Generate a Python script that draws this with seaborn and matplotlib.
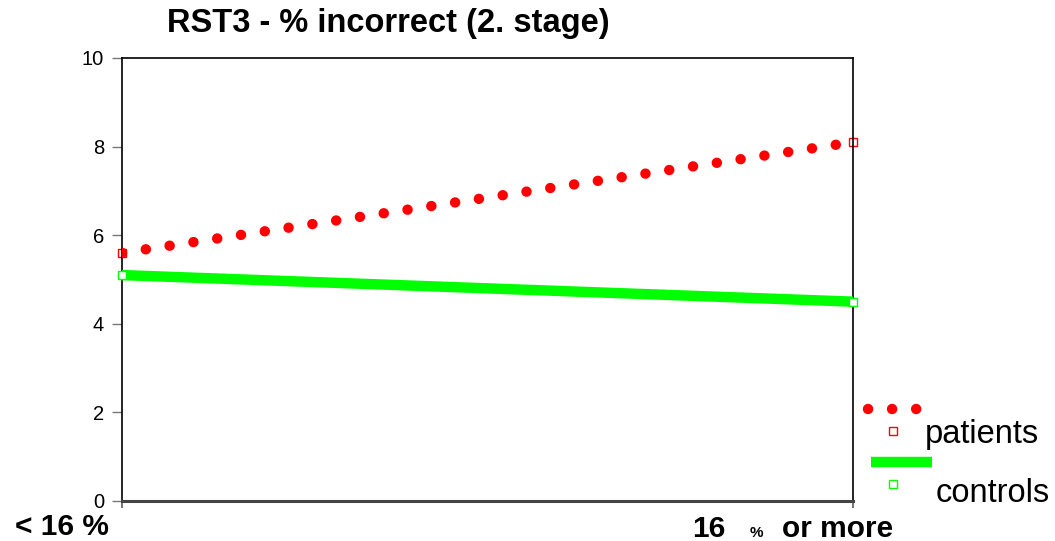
import pandas as pd
import numpy as np
import matplotlib
matplotlib.use('Agg')
import matplotlib.pyplot as plt
import seaborn as sns
from matplotlib.lines import Line2D

# values
categories = ['< 16 %', '16 % or more']
patients = [5.6, 8.1]
controls = [5.1, 4.5]
y_ticks = [0, 2, 4, 6, 8, 10]
title = 'RST3 - % incorrect (2. stage)'

sns.set_style('white')
plt.rcParams['font.family'] = ['Liberation Sans', 'DejaVu Sans']
plt.rcParams['text.color'] = 'black'
plt.rcParams['ytick.labelcolor'] = 'black'

W, H = 1055, 541
fig = plt.figure(figsize=(W / 100, H / 100), dpi=100)
ax = fig.add_axes([122 / W, 1 - 501 / H, (853 - 122) / W, (501 - 58) / H])

df = pd.DataFrame({'pos': list(range(len(categories))),
                   'patients': patients, 'controls': controls})

# patients: big red dots
sns.lineplot(data=df, x='pos', y='patients', ax=ax, color='red',
             linewidth=7.5, linestyle=(0, (0.01, 2.3)),
             dash_capstyle='round', zorder=3)
# controls: thick green line
sns.lineplot(data=df, x='pos', y='controls', ax=ax, color='#00ff00',
             linewidth=7.5, solid_capstyle='butt', zorder=3)

# small hollow square markers at the data points
ax.plot(df['pos'], df['patients'], ls='none', marker='s', ms=6,
        mfc='white', mec='red', mew=1.0, clip_on=False, zorder=2)
ax.plot(df['pos'], df['controls'], ls='none', marker='s', ms=6,
        mfc='white', mec='#00ff00', mew=1.0, clip_on=False, zorder=5)

ax.set_xlim(0, len(categories) - 1)
ax.set_ylim(0, 10)
ax.set_yticks(y_ticks)
ax.set_yticklabels([str(t) for t in y_ticks], fontsize=14.5, color='black')
ax.set_xticks(df['pos'])
ax.set_xticklabels([])
ax.set_xlabel('')
ax.set_ylabel('')
ax.tick_params(axis='y', direction='out', length=7, width=1, color='#777777',
               pad=6, left=True)
ax.tick_params(axis='x', direction='out', length=5, width=1.5, color='#777777',
               bottom=True)

for s in ['top', 'right', 'left']:
    ax.spines[s].set_color('black')
    ax.spines[s].set_linewidth(1.2)
ax.spines['bottom'].set_color('#444444')
ax.spines['bottom'].set_linewidth(2.2)

# title
fig.text(388 / W, 1 - 32 / H, title, ha='center', va='baseline',
         fontsize=23.5, fontweight='bold', color='black')

# category labels under the axis
fig.text(15 / W, 1 - 535 / H, categories[0], ha='left', va='baseline',
         fontsize=21.5, fontweight='bold', color='black')
fig.text(692 / W, 1 - 537 / H, '16', ha='left', va='baseline',
         fontsize=21.5, fontweight='bold', color='black')
fig.text(750 / W, 1 - 537 / H, '%', ha='left', va='baseline',
         fontsize=11, fontweight='bold', color='black')
fig.text(782 / W, 1 - 537 / H, 'or more', ha='left', va='baseline',
         fontsize=21.5, fontweight='bold', color='black')

# legend drawn beside the plot
def fx(px):
    return px / W


def fy(py):
    return 1 - py / H


fig.add_artist(Line2D([fx(868), fx(922)], [fy(409), fy(409)], color='red',
                      lw=7.5, ls=(0, (0.01, 2.3)), dash_capstyle='round'))
fig.add_artist(Line2D([fx(893)], [fy(431)], color='red', ls='none',
                      marker='s', ms=6, mfc='white', mec='red', mew=1.0))
fig.text(fx(925), fy(443), 'patients', ha='left', va='baseline',
         fontsize=23.5, color='black')

fig.add_artist(Line2D([fx(871), fx(932)], [fy(462), fy(462)],
                      color='#00ff00', lw=7.5, solid_capstyle='butt'))
fig.add_artist(Line2D([fx(893)], [fy(484)], color='#00ff00', ls='none',
                      marker='s', ms=6, mfc='white', mec='#00ff00', mew=1.0))
fig.text(fx(936), fy(502), 'controls', ha='left', va='baseline',
         fontsize=23.5, color='black')

fig.savefig('out.png', dpi=100)
